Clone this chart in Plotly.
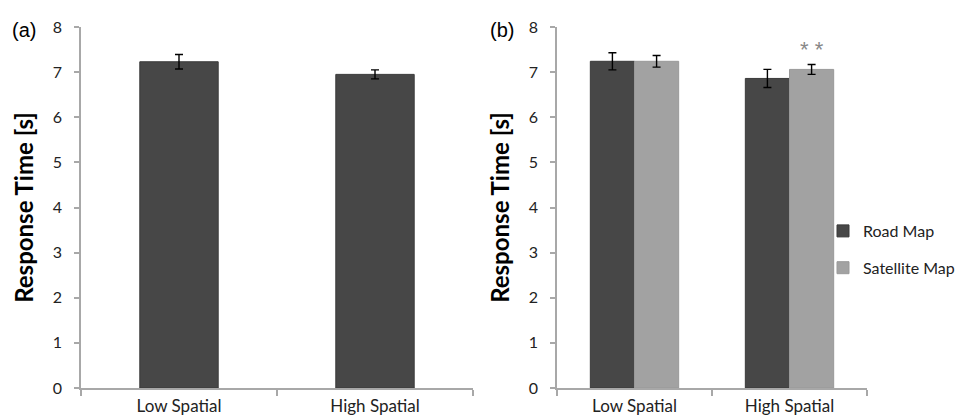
import plotly.graph_objects as go

categories = ["Low Spatial", "High Spatial"]
cat_pos = [0.5, 1.5]

# Panel (a)
a_values = [7.23, 6.95]
a_errors = [0.16, 0.10]

# Panel (b)
road_values = [7.24, 6.86]
road_errors = [0.19, 0.20]
sat_values = [7.24, 7.06]
sat_errors = [0.13, 0.11]

y_ticks = [0, 1, 2, 3, 4, 5, 6, 7, 8]

DARK = "#474747"
LIGHT = "#a2a2a2"
AXIS = "#a8a8a8"
FONT = "Lato, Open Sans, sans-serif"

fig = go.Figure()

fig.add_trace(go.Bar(
    x=cat_pos, y=a_values, width=0.4, offset=-0.2,
    marker=dict(color=DARK, line=dict(color="#3a3a3a", width=1)),
    error_y=dict(type="data", array=a_errors, color="black", thickness=1.4, width=4),
    showlegend=False, xaxis="x", yaxis="y",
))

bw = 0.285
fig.add_trace(go.Bar(
    x=cat_pos, y=road_values, width=bw, offset=-bw,
    name="Road Map", legendgroup="r",
    marker=dict(color=DARK, line=dict(color="#3a3a3a", width=1)),
    error_y=dict(type="data", array=road_errors, color="black", thickness=1.4, width=4),
    xaxis="x2", yaxis="y2",
))
fig.add_trace(go.Bar(
    x=cat_pos, y=sat_values, width=bw, offset=0,
    name="Satellite Map", legendgroup="s",
    marker=dict(color=LIGHT, line=dict(color="#999", width=1)),
    error_y=dict(type="data", array=sat_errors, color="black", thickness=1.4, width=4),
    xaxis="x2", yaxis="y2",
))

W, H = 968, 419
T, B = 19, 39
PH = H - T - B
def py(ypx):
    return (H - B - ypx) / PH

def xaxis_cfg(d0, d1, anchor):
    return dict(
        domain=[d0 / W, d1 / W], anchor=anchor, range=[0, 2],
        tickvals=cat_pos, ticktext=categories, ticks="",
        ticklabelstandoff=2,
        tickfont=dict(family=FONT, size=17, color="#222"),
        showline=True, linecolor=AXIS, linewidth=1.5, showgrid=False, zeroline=False,
        minor=dict(tickvals=[0, 1, 2], ticks="outside", ticklen=6, tickcolor=AXIS, tickwidth=1.5),
        fixedrange=True,
    )

def yaxis_cfg(anchor):
    return dict(
        anchor=anchor, range=[0, 8], tickvals=y_ticks, ticks="outside", ticklen=5,
        tickcolor=AXIS, tickwidth=1.5, tickfont=dict(family=FONT, size=16, color="#222"),
        ticklabelstandoff=9,
        showline=True, linecolor=AXIS, linewidth=1.5, showgrid=False, zeroline=False,
        title=dict(text="<b>Response Time [s]</b>", standoff=12,
                   font=dict(family=FONT, size=24, color="black")),
        domain=[0, 1],
    )

fig.update_layout(
    width=W, height=H,
    margin=dict(l=0, r=0, t=T, b=B),
    paper_bgcolor="white", plot_bgcolor="white",
    barmode="overlay",
    xaxis=xaxis_cfg(73, 465, "y"),
    yaxis=yaxis_cfg("x"),
    xaxis2=xaxis_cfg(549, 859, "y2"),
    yaxis2=yaxis_cfg("x2"),
    legend=dict(x=815 / W, y=py(206), xanchor="left", yanchor="top",
                font=dict(family=FONT, size=16, color="#222"),
                tracegroupgap=13, bgcolor="rgba(0,0,0,0)"),
    annotations=[
        dict(text="(a)", x=2 / W, y=py(22), xref="paper", yref="paper",
             xanchor="left", yanchor="middle", showarrow=False,
             font=dict(family="Liberation Sans, Arial, sans-serif", size=20, color="black")),
        dict(text="(b)", x=480 / W, y=py(22), xref="paper", yref="paper",
             xanchor="left", yanchor="middle", showarrow=False,
             font=dict(family="Liberation Sans, Arial, sans-serif", size=20, color="black")),
        dict(text="* *", x=cat_pos[1] + bw / 2, y=sat_values[1] + sat_errors[1] + 0.33,
             xref="x2", yref="y2", showarrow=False,
             font=dict(family="Liberation Sans, Arial, sans-serif", size=22, color="#888")),
    ],
)

fig.write_html("out.html")
